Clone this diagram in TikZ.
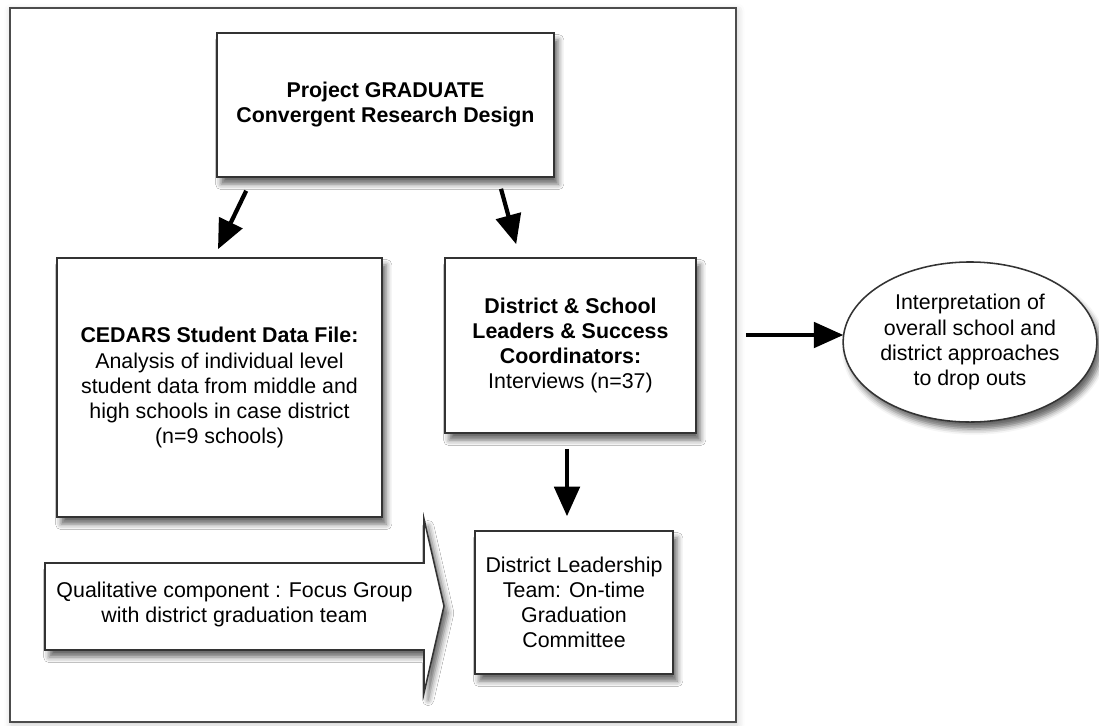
\documentclass[tikz,border=0pt]{standalone}
\usepackage{fontspec}
\setmainfont{Liberation Sans}
\usetikzlibrary{arrows.meta,calc,positioning,shapes.geometric,shadows.blur}

\begin{document}
\begin{tikzpicture}[x=0.025cm, y=-0.025cm,
    every node/.style={font=\fontsize{15.2}{17.8}\selectfont, align=center},
    box/.style={draw=black!80, line width=1.1pt, fill=white, inner sep=0pt,
        blur shadow={shadow xshift=3pt, shadow yshift=-5pt, shadow blur radius=4pt, shadow opacity=60}},
    flow/.style={draw=black, line width=3pt, -{Triangle[length=21pt, width=18pt, fill=black]}}]
    \useasboundingbox (0,0) rectangle (1099,725);

    % Outer frame around the design
    \node[draw=black!70, line width=1pt, fill=white, minimum width=18.15cm, minimum height=17.85cm,
        blur shadow={shadow xshift=1pt, shadow yshift=-2pt, shadow blur radius=5pt, shadow opacity=20}]
        (frame) at (373,365) {};

    % Boxes
    \node[box, minimum width=8.425cm, minimum height=3.6cm,
        font=\fontsize{15.2}{17.8}\selectfont\bfseries] (design) at (385.5,105)
        {Project GRADUATE\\Convergent Research Design};
    \node[box, minimum width=8.125cm, minimum height=6.475cm] (cedars) at (219.5,387.5)
        {\textbf{CEDARS Student Data File:}\\Analysis of individual level\\student data from middle and\\high schools in case district\\(n=9 schools)};
    \node[box, minimum width=6.275cm, minimum height=4.375cm] (leaders) at (570.5,345.5)
        {\textbf{District \& School}\\\textbf{Leaders \& Success}\\\textbf{Coordinators:}\\Interviews (n=37)};
    \node[box, minimum width=4.95cm, minimum height=3.575cm] (team) at (574,602.5)
        {District Leadership\\Team: On-time\\Graduation\\Committee};

    % Qualitative block arrow
    \draw[box] (45,563) -- (424,563) -- (424,519) -- (444,606) -- (424,693)
        -- (424,650) -- (45,650) -- cycle;
    \node (focus) at (234.5,604) {Qualitative component : Focus Group\\with district graduation team};

    % Interpretation
    \node[box, ellipse, minimum width=6.3cm, minimum height=4cm] (interp) at (970,342)
        {Interpretation of\\overall school and\\district approaches\\to drop outs};

    % Connectors
    \draw[flow] ($(design.south west)+(30,13)$) -- ($(cedars.north)+(-1.5,-8)$);
    \draw[flow] ($(design.south)+(115.5,11)$) -- ($(leaders.north west)+(72,-13)$);
    \draw[flow] ($(leaders.south)+(-3.5,15)$) -- ($(team.north)+(-7,-14)$);
    \draw[flow] ($(frame.east)+(9,-30)$) -- ($(interp.west)+(1,-7)$);
\end{tikzpicture}
\end{document}
